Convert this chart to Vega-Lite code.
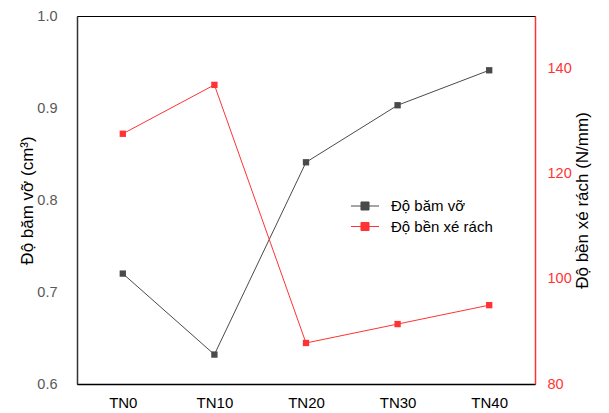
{
  "$schema": "https://vega.github.io/schema/vega-lite/v6.json",
  "autosize": {"type": "none"},
  "padding": {"left": 77, "top": 16, "right": 74, "bottom": 29},
  "width": 458,
  "height": 368,
  "background": "white",
  "config": {
    "font": "Liberation Sans",
    "view": {"stroke": "#000000", "strokeWidth": 1}
  },
  "data": {
    "values": [
      {"cat": "TN0", "bam": 0.72, "ben": 127.6},
      {"cat": "TN10", "bam": 0.632, "ben": 136.9},
      {"cat": "TN20", "bam": 0.841, "ben": 87.8},
      {"cat": "TN30", "bam": 0.903, "ben": 91.4},
      {"cat": "TN40", "bam": 0.941, "ben": 95.0}
    ]
  },
  "encoding": {
    "x": {
      "field": "cat",
      "type": "ordinal",
      "sort": null,
      "scale": {"type": "point", "padding": 0.5},
      "axis": {
        "title": null,
        "labelAngle": 0,
        "ticks": false,
        "labelPadding": 11,
        "labelFontSize": 15,
        "labelColor": "#000000",
        "domainColor": "#000000",
        "domainWidth": 1.5,
        "grid": false
      }
    }
  },
  "layer": [
    {
      "mark": {"type": "line", "strokeWidth": 1, "point": {"shape": "square", "size": 40, "filled": true, "opacity": 1}},
      "encoding": {
        "y": {
          "field": "bam",
          "type": "quantitative",
          "scale": {"domain": [0.6, 1.0], "zero": false, "nice": false},
          "axis": {
            "title": "Độ băm vỡ (cm³)",
            "values": [0.6, 0.7, 0.8, 0.9, 1.0],
            "format": ".1f",
            "ticks": false,
            "grid": false,
            "labelPadding": 20,
            "labelFontSize": 14.5,
            "labelColor": "#595959",
            "domainColor": "#333333",
            "domainWidth": 1.5,
            "titleFontSize": 17,
            "titleFontWeight": "normal",
            "titleColor": "#000000",
            "titlePadding": 0
          }
        },
        "color": {
          "datum": "Độ băm vỡ",
          "type": "nominal",
          "scale": {"domain": ["Độ băm vỡ", "Độ bền xé rách"], "range": ["#4a4a4a", "#ff3333"]},
          "legend": {
            "title": null,
            "orient": "none",
            "legendX": 278,
            "legendY": 180,
            "symbolType": "M-1.5,0L1.5,0M-0.43,-0.43L0.43,-0.43L0.43,0.43L-0.43,0.43Z",
            "symbolSize": 350,
            "symbolStrokeWidth": 1,
            "labelFontSize": 15,
            "labelColor": "#000000",
            "labelOffset": 16,
            "rowPadding": 2.5,
            "encode": {
              "symbols": {"update": {"fill": {"scale": "color", "field": "value"}, "fillOpacity": {"value": 1}, "stroke": {"scale": "color", "field": "value"}}}
            }
          }
        }
      }
    },
    {
      "mark": {"type": "line", "strokeWidth": 1, "point": {"shape": "square", "size": 40, "filled": true, "opacity": 1}},
      "encoding": {
        "y": {
          "field": "ben",
          "type": "quantitative",
          "scale": {"domain": [80, 150], "zero": false, "nice": false},
          "axis": {
            "orient": "right",
            "title": "Độ bền xé rách (N/mm)",
            "values": [80, 100, 120, 140],
            "ticks": false,
            "grid": false,
            "labelPadding": 12,
            "labelFontSize": 14.5,
            "labelColor": "#ff3333",
            "domainColor": "#ff3333",
            "domainWidth": 1.5,
            "titleFontSize": 17,
            "titleFontWeight": "normal",
            "titleColor": "#000000",
            "titleAngle": 270,
            "titlePadding": 20
          }
        },
        "color": {"datum": "Độ bền xé rách", "type": "nominal"}
      }
    }
  ],
  "resolve": {"scale": {"y": "independent"}}
}
